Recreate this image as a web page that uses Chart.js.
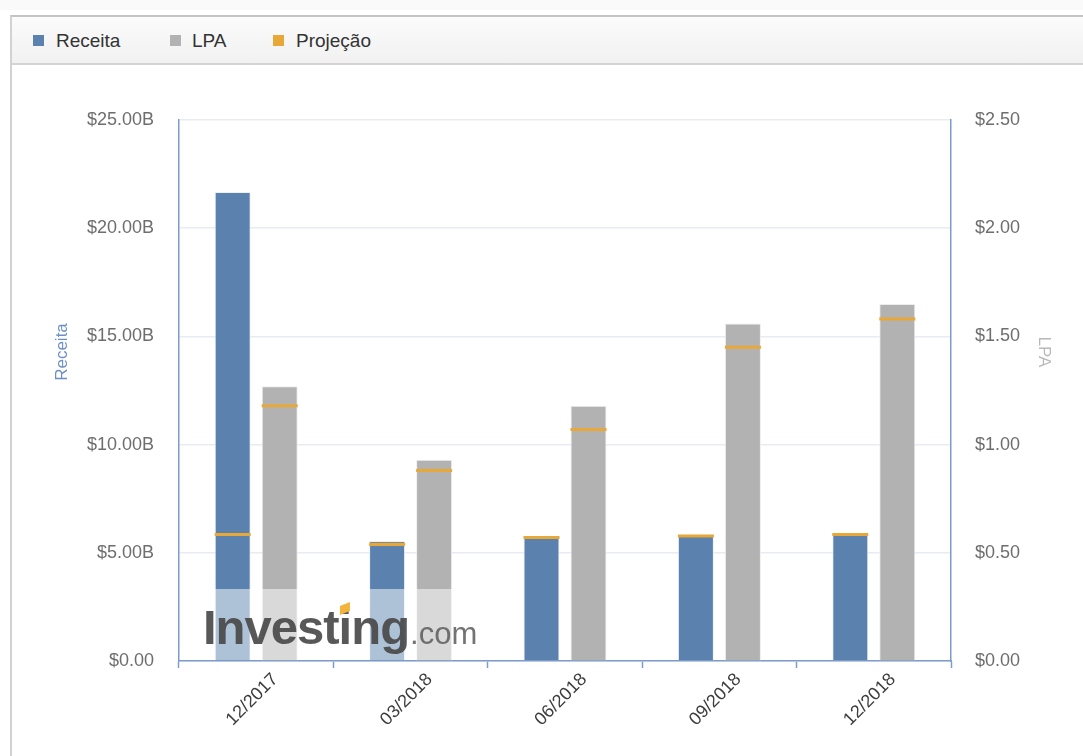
<!DOCTYPE html>
<html>
<head>
<meta charset="utf-8">
<script src="https://cdn.jsdelivr.net/npm/chart.js@4/dist/chart.umd.min.js"></script>
<style>
  html,body{margin:0;padding:0;background:#fff;width:1083px;height:756px;overflow:hidden;font-family:"Liberation Sans",Arial,sans-serif;}
  #topband{position:absolute;left:0;top:0;width:1083px;height:10px;background:#fafafa;}
  #frame{position:absolute;left:10px;top:15px;width:1090px;height:760px;border-left:2px solid #d2d2d2;border-top:2px solid #c4c4c4;box-sizing:border-box;}
  #legend{position:absolute;left:12px;top:17px;width:1071px;height:46px;background:linear-gradient(#fbfbfb,#f1f1f1);border-bottom:2px solid #d4d4d4;}
  .lg{position:absolute;top:31px;font-size:19px;color:#333;line-height:19px;}
  .sw{position:absolute;top:35px;width:11px;height:11px;}
  #wrap{position:absolute;left:0;top:0;width:1083px;height:756px;}
</style>
</head>
<body>
<div id="topband"></div>
<div id="frame"></div>
<div id="legend"></div>
<div class="sw" style="left:33px;background:#5b82ae"></div><div class="lg" style="left:56px">Receita</div>
<div class="sw" style="left:170px;background:#b2b2b2"></div><div class="lg" style="left:192px">LPA</div>
<div class="sw" style="left:273px;background:#e8a838"></div><div class="lg" style="left:296px">Projeção</div>
<div id="wrap"><canvas id="c" width="1083" height="756"></canvas></div>
<script>
const categories = ['12/2017', '03/2018', '06/2018', '09/2018', '12/2018'];
const receita = [21.67, 5.55, 5.78, 5.85, 5.93];        // US$ bilhões
const receitaProj = [5.85, 5.39, 5.71, 5.78, 5.85];     // US$ bilhões
const lpa = [1.27, 0.93, 1.18, 1.56, 1.65];             // US$
const lpaProj = [1.18, 0.88, 1.07, 1.45, 1.58];         // US$
const receitaTicks = [0, 5, 10, 15, 20, 25];
const lpaTicks = [0, 0.5, 1, 1.5, 2, 2.5];

const BLUE = '#5b82ae', GRAY = '#b2b2b2', ORANGE = '#e8a838', AXIS = '#7e9ccb';
const projR = receitaProj.map(v => [v - 0.07, v + 0.07]);
const projL = lpaProj.map(v => [v - 0.007, v + 0.007]);

const extras = {
  id: 'extras',
  afterDatasetsDraw(chart) {
    const ctx = chart.ctx;
    ctx.save();
    // watermark
    ctx.fillStyle = 'rgba(255,255,255,0.5)';
    ctx.fillRect(196, 589, 284, 71);
    ctx.textBaseline = 'alphabetic';
    ctx.textAlign = 'left';
    ctx.font = 'bold 49px "Liberation Sans", Arial, sans-serif';
    try { ctx.letterSpacing = '-1px'; } catch (e) {}
    ctx.fillStyle = 'rgba(70,70,70,0.9)';
    const w1 = ctx.measureText('Investing').width;
    const sx = 203, by = 644;
    ctx.fillText('Investing', sx, by);
    const wPre = ctx.measureText('Invest').width;
    const wi = ctx.measureText('i').width;
    ctx.fillStyle = '#f4b43c';
    const cx = sx + wPre + wi / 2;
    ctx.beginPath();
    ctx.moveTo(cx - 5, 615); ctx.lineTo(cx + 5, 611); ctx.lineTo(cx + 5, 602); ctx.lineTo(cx - 5, 606);
    ctx.closePath(); ctx.fill();
    try { ctx.letterSpacing = '0px'; } catch (e) {}
    ctx.font = '31px "Liberation Sans", Arial, sans-serif';
    ctx.fillStyle = 'rgba(90,90,90,0.85)';
    ctx.fillText('.com', sx + w1 + 1, by);
    ctx.restore();
  },
  afterDraw(chart) {
    const ctx = chart.ctx;
    ctx.save();
    ctx.font = '17px "Liberation Sans", Arial, sans-serif';
    ctx.textAlign = 'center';
    ctx.textBaseline = 'middle';
    ctx.fillStyle = '#6d8fc4';
    ctx.translate(62, 352);
    ctx.rotate(-Math.PI / 2);
    ctx.fillText('Receita', 0, 0);
    ctx.restore();
    ctx.save();
    ctx.font = '17px "Liberation Sans", Arial, sans-serif';
    ctx.textAlign = 'center';
    ctx.textBaseline = 'middle';
    ctx.fillStyle = '#b8b8b8';
    ctx.translate(1044, 352);
    ctx.rotate(Math.PI / 2);
    ctx.fillText('LPA', 0, 0);
    ctx.restore();
  }
};

new Chart(document.getElementById('c'), {
  type: 'bar',
  data: {
    labels: categories,
    datasets: [
      { label: 'Receita', data: receita, yAxisID: 'y', stack: 'r', backgroundColor: BLUE, borderColor: 'rgba(235,240,247,0.9)', borderWidth: 1, order: 2 },
      { label: 'LPA', data: lpa, yAxisID: 'y1', stack: 'l', backgroundColor: GRAY, borderColor: 'rgba(235,235,235,0.9)', borderWidth: 1, order: 2 },
      { label: 'Projeção', data: projR, yAxisID: 'y', stack: 'r', backgroundColor: ORANGE, borderWidth: 0, order: 1 },
      { label: 'Projeção LPA', data: projL, yAxisID: 'y1', stack: 'l', backgroundColor: ORANGE, borderWidth: 0, order: 1 }
    ]
  },
  options: {
    responsive: false,
    animation: false,
    devicePixelRatio: 1,
    categoryPercentage: 0.609,
    barPercentage: 0.766,
    layout: { padding: { top: 120, left: 10, right: 10, bottom: 0 } },
    plugins: { legend: { display: false }, tooltip: { enabled: false } },
    scales: {
      x: {
        offset: true,
        grid: { offset: true, drawOnChartArea: false, drawTicks: true, tickLength: 7, tickColor: AXIS, tickWidth: 1.5 },
        border: { display: true, color: AXIS, width: 1.5 },
        ticks: { color: '#3c3c3c', font: { family: '"Liberation Sans", Arial, sans-serif', size: 18 }, minRotation: 45, maxRotation: 45, labelOffset: 19, padding: 1 },
        afterFit(s) { s.height = 95; }
      },
      y: {
        position: 'left', min: 0, max: 25, stacked: false,
        afterBuildTicks(s) { s.ticks = receitaTicks.map(v => ({ value: v })); },
        grid: { color: '#e8ecf2', lineWidth: 1.5, drawTicks: false },
        border: { display: true, color: AXIS, width: 1.5 },
        ticks: { color: '#6e6e6e', padding: 25, font: { family: '"Liberation Sans", Arial, sans-serif', size: 18 },
          callback: v => v === 0 ? '$0.00' : '$' + v.toFixed(2) + 'B' },
        afterFit(s) { s.width = 169; }
      },
      y1: {
        position: 'right', min: 0, max: 2.5, stacked: false,
        afterBuildTicks(s) { s.ticks = lpaTicks.map(v => ({ value: v })); },
        grid: { drawOnChartArea: false, drawTicks: false },
        border: { display: true, color: AXIS, width: 1.5 },
        ticks: { color: '#6e6e6e', padding: 24, font: { family: '"Liberation Sans", Arial, sans-serif', size: 18 },
          callback: v => '$' + v.toFixed(2) },
        afterFit(s) { s.width = 122; }
      }
    }
  },
  plugins: [extras]
});
</script>
</body>
</html>
